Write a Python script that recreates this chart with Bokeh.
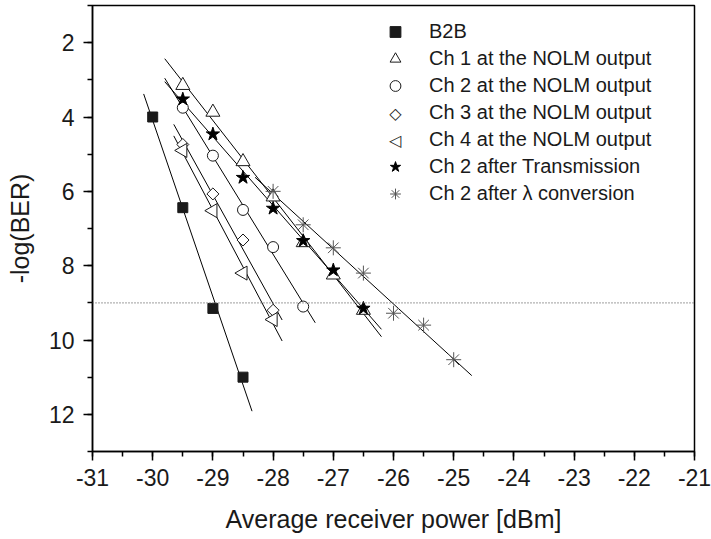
import numpy as np
from bokeh.plotting import figure
from bokeh.models import (Range1d, SingleIntervalTicker, Span, Legend, LegendItem, Label,
                          PrintfTickFormatter)
from bokeh.embed import file_html
from bokeh.resources import INLINE

# ---- data ----
b2b_x = [-30.0, -29.5, -29.0, -28.5]
b2b_y = [4.0, 6.44, 9.15, 11.0]

ch1_x = [-29.5, -29.0, -28.5, -28.0, -27.5, -27.0, -26.5]
ch1_y = [3.15, 3.87, 5.2, 6.15, 7.38, 8.25, 9.2]

ch2_x = [-29.5, -29.0, -28.5, -28.0, -27.5]
ch2_y = [3.75, 5.04, 6.5, 7.5, 9.1]

ch3_x = [-29.5, -29.0, -28.5, -28.0]
ch3_y = [4.74, 6.07, 7.31, 9.2]

ch4_x = [-29.5, -29.0, -28.5, -28.0]
ch4_y = [4.9, 6.52, 8.2, 9.45]

tx_x = [-29.5, -29.0, -28.5, -28.0, -27.5, -27.0, -26.5]
tx_y = [3.52, 4.46, 5.63, 6.46, 7.33, 8.12, 9.15]

conv_x = [-28.0, -27.5, -27.0, -26.5, -26.0, -25.5, -25.0]
conv_y = [6.0, 6.9, 7.52, 8.2, 9.28, 9.6, 10.53]

# x-extent of each linear fit line
b2b_fit = [-30.15, -28.35]
ch1_fit = [-29.8, -26.2]
ch2_fit = [-29.8, -27.3]
ch3_fit = [-29.65, -27.85]
ch4_fit = [-29.65, -27.85]
tx_fit = [-29.8, -26.2]
conv_fit = [-28.3, -24.7]

labels = ["B2B", "Ch 1 at the NOLM output", "Ch 2 at the NOLM output",
          "Ch 3 at the NOLM output", "Ch 4 at the NOLM output",
          "Ch 2 after Transmission", "Ch 2 after \u03bb conversion"]

threshold = 9
x_ticks_interval = 1
y_ticks_interval = 2

FONT = "Liberation Sans"
INK = "#1a1a1a"

p = figure(width=711, height=539, x_range=Range1d(-31, -21), y_range=Range1d(13, 1),
           output_backend="svg", toolbar_location=None,
           min_border_left=92, min_border_right=17, min_border_top=5, min_border_bottom=88)
p.background_fill_color = "white"
p.border_fill_color = "white"
p.outline_line_color = "black"
p.outline_line_width = 1.5
p.xgrid.visible = False
p.ygrid.visible = False

p.xaxis.ticker = SingleIntervalTicker(interval=x_ticks_interval, num_minor_ticks=2)
p.yaxis.ticker = SingleIntervalTicker(interval=y_ticks_interval, num_minor_ticks=2)
for ax in (p.xaxis[0], p.yaxis[0]):
    ax.formatter = PrintfTickFormatter(format="%d")
    ax.axis_line_color = "black"
    ax.axis_line_width = 1.5
    ax.major_tick_line_color = "black"
    ax.minor_tick_line_color = "black"
    ax.major_tick_line_width = 1.5
    ax.minor_tick_line_width = 1.5
    ax.major_tick_in = 0
    ax.major_tick_out = 9
    ax.minor_tick_in = 0
    ax.minor_tick_out = 5
    ax.major_label_text_font = FONT
    ax.major_label_text_font_size = "23px"
    ax.major_label_text_color = INK
    ax.axis_label_text_font = FONT
    ax.axis_label_text_font_style = "normal"
    ax.axis_label_text_font_size = "25px"
    ax.axis_label_text_color = INK

p.xaxis.axis_label = "Average receiver power [dBm]"
p.xaxis.major_label_standoff = 8
p.xaxis.axis_label_standoff = 16
p.yaxis.axis_label = "-log(BER)"
p.yaxis.major_label_standoff = 9
p.yaxis.axis_label_standoff = 12

p.add_layout(Span(location=threshold, dimension="width", line_color="#666666",
                  line_dash="1 2", line_width=1.2))

series = [
    (b2b_x, b2b_y, b2b_fit, dict(marker="square", size=10, fill_color=INK, line_color=INK)),
    (ch1_x, ch1_y, ch1_fit, dict(marker="triangle", size=14, fill_color="white", line_color=INK)),
    (ch2_x, ch2_y, ch2_fit, dict(marker="circle", size=11, fill_color="white", line_color=INK)),
    (ch3_x, ch3_y, ch3_fit, dict(marker="square", size=8.5, angle=np.pi / 4, fill_color="white", line_color=INK)),
    (ch4_x, ch4_y, ch4_fit, dict(marker="triangle", size=14, angle=np.pi / 2, fill_color="white", line_color=INK)),
    (tx_x, tx_y, tx_fit, dict(marker="star", size=14, fill_color="black", line_color="black")),
    (conv_x, conv_y, conv_fit, dict(marker="asterisk", size=15, line_color="#555555")),
]

for (xs, ys, fx, style) in series:
    k, b = np.polyfit(xs, ys, 1)
    fxs = np.array(fx)
    p.line(fxs, k * fxs + b, line_color="black", line_width=1)

items = []
for i, ((xs, ys, fx, style), lab) in enumerate(zip(series, labels)):
    r = p.scatter(xs, ys, line_width=1, **style)
    if "angle" in style:
        # legend glyphs ignore marker rotation: use an invisible stand-in
        r = p.scatter(xs[:1], ys[:1], marker="circle", size=1, fill_alpha=0, line_alpha=0)
    items.append(LegendItem(label=lab, renderers=[r]))

LEG_X, LEG_Y, ROW_H, GLYPH_W = 288, 244, 27, 30
legend = Legend(items=items, location=(LEG_X, LEG_Y), border_line_color=None,
                background_fill_alpha=0, padding=0, margin=0, spacing=0,
                label_height=ROW_H, glyph_height=ROW_H, glyph_width=GLYPH_W, label_standoff=19,
                label_text_font=FONT, label_text_font_size="20px", label_text_color=INK)
p.add_layout(legend, "center")

# rotated legend symbols for Ch 3 (diamond) and Ch 4 (left triangle)
leg_top = LEG_Y + ROW_H * len(items)
for idx, sym in ((3, "\u25c7"), (4, "\u25c1")):
    p.add_layout(Label(x=LEG_X + GLYPH_W / 2, y=leg_top - ROW_H / 2 - ROW_H * idx,
                       x_units="screen", y_units="screen", text=sym,
                       text_align="center", text_baseline="middle",
                       text_font="DejaVu Sans", text_font_size="16px", text_color=INK))

open("out.html", "w").write(file_html(p, INLINE))
